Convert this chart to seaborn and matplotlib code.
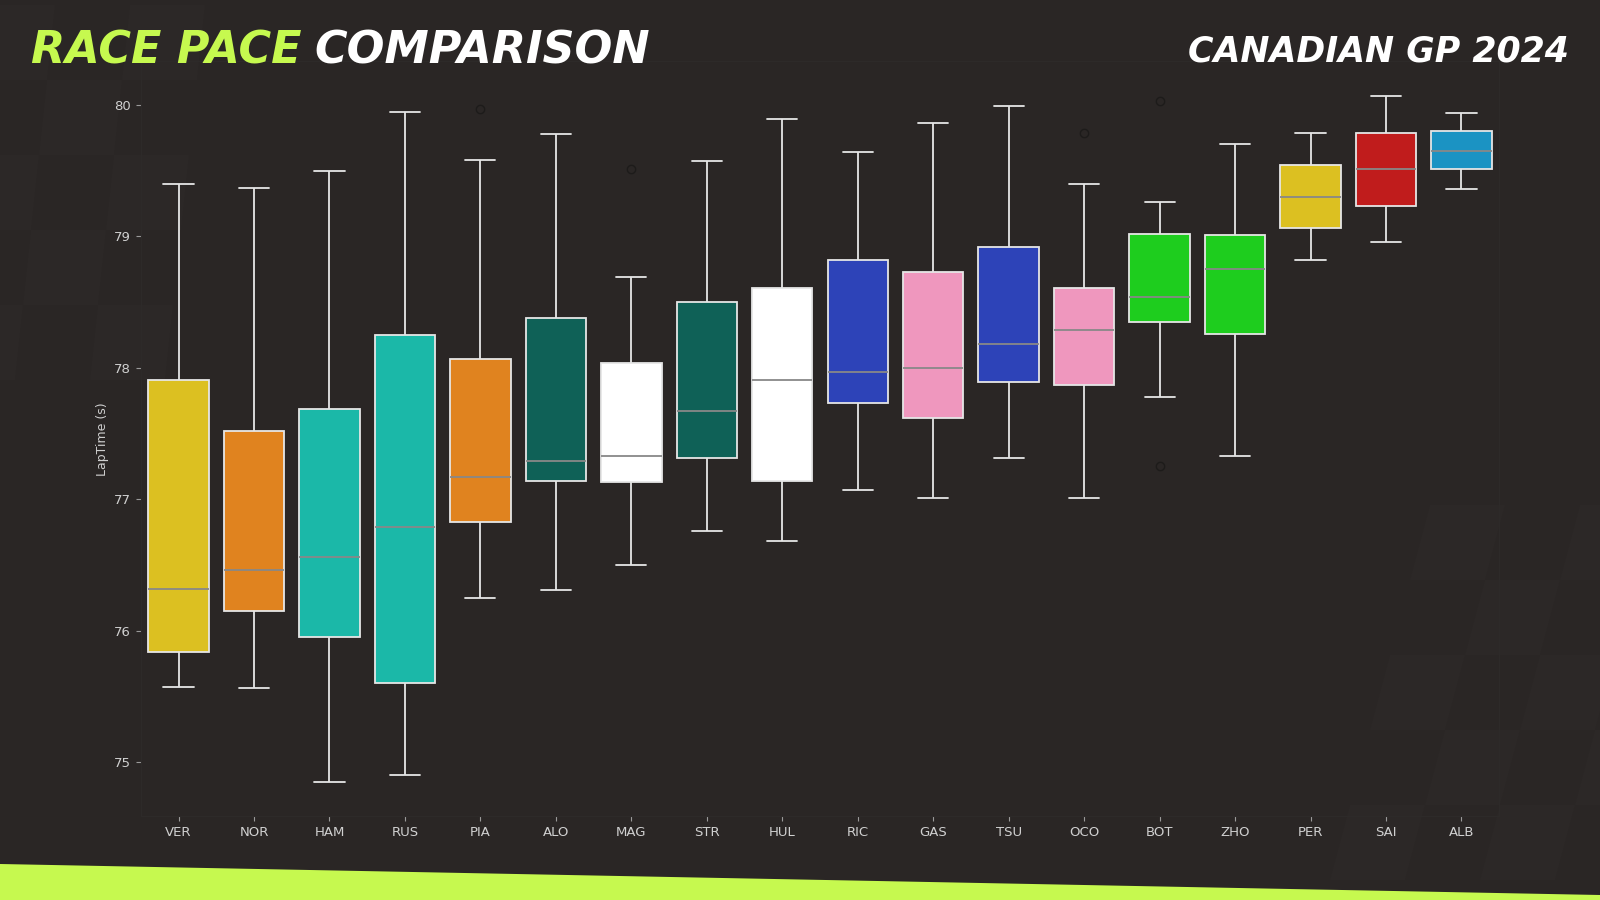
import numpy as np
import pandas as pd
import seaborn as sns
import matplotlib.pyplot as plt
from matplotlib.patches import Polygon

# lap time summary per driver (seconds)
drivers = ["VER", "NOR", "HAM", "RUS", "PIA", "ALO", "MAG", "STR", "HUL",
           "RIC", "GAS", "TSU", "OCO", "BOT", "ZHO", "PER", "SAI", "ALB"]
whislo = [75.57, 75.56, 74.85, 74.90, 76.25, 76.31, 76.50, 76.76, 76.68,
          77.07, 77.01, 77.31, 77.01, 77.78, 77.33, 78.82, 78.96, 79.36]
q1 = [75.84, 76.15, 75.95, 75.60, 76.83, 77.14, 77.13, 77.31, 77.14,
      77.73, 77.62, 77.89, 77.87, 78.35, 78.26, 79.06, 79.23, 79.51]
med = [76.32, 76.46, 76.56, 76.79, 77.17, 77.29, 77.33, 77.67, 77.91,
       77.97, 78.00, 78.18, 78.29, 78.54, 78.75, 79.30, 79.51, 79.65]
q3 = [77.91, 77.52, 77.69, 78.25, 78.07, 78.38, 78.04, 78.50, 78.61,
      78.82, 78.73, 78.92, 78.61, 79.02, 79.01, 79.54, 79.79, 79.80]
whishi = [79.40, 79.37, 79.50, 79.95, 79.58, 79.78, 78.69, 79.57, 79.89,
          79.64, 79.86, 79.99, 79.40, 79.26, 79.70, 79.79, 80.07, 79.94]
# outliers (None = no outlier on that side)
flier_lo = [None] * 13 + [77.25] + [None] * 4
flier_hi = [None, None, None, None, 79.97, None, 79.51, None, None,
            None, None, None, 79.79, 80.03, None, None, None, None]
team_colors = ["#DCC021", "#E0831F", "#1BB8A8", "#1BB8A8", "#E0831F", "#0F6157",
               "#FFFFFF", "#0F6157", "#FFFFFF", "#2D43B8", "#EF97BE", "#2D43B8",
               "#EF97BE", "#1ECD1E", "#1ECD1E", "#DCC021", "#C01C1C", "#1B93C3"]

BG = "#2a2625"
LIME = "#c6f94f"

# build laps so the box stats come out as read
rows = []
for i, d in enumerate(drivers):
    lo = flier_lo[i] if flier_lo[i] is not None else whislo[i]
    hi = flier_hi[i] if flier_hi[i] is not None else whishi[i]
    for v in [lo, whislo[i], q1[i], q1[i], med[i], q3[i], q3[i], whishi[i], hi]:
        rows.append((d, v))
laps = pd.DataFrame(rows, columns=["Driver", "LapTime"])

sns.set_style("dark")
fig = plt.figure(figsize=(16, 9), dpi=100, facecolor=BG)

# faint checker pattern in the corners (background decoration)
def checker(x0, y0, nx, ny, size, skew):
    for i in range(nx):
        for j in range(ny):
            if (i + j) % 2:
                continue
            x = x0 + i * size + j * skew
            y = y0 - j * size
            pts = [(x, y), (x + size, y), (x + size + skew, y - size), (x + skew, y - size)]
            fig.patches.append(Polygon([(px / 1600, 1 - py / 900) for px, py in pts],
                                       closed=True, transform=fig.transFigure,
                                       facecolor="#2c2827", edgecolor="none", zorder=-10))

checker(-60, 380, 3, 5, 75, 8)
checker(1330, 880, 4, 5, 75, 20)

# lime stripe at the bottom
fig.patches.append(Polygon([(0, 1 - 864 / 900), (1, 1 - 895 / 900), (1, 0), (0, 0)],
                           closed=True, transform=fig.transFigure,
                           facecolor=LIME, edgecolor="none", zorder=-5))

ax = fig.add_axes([0.088, 0.0933, 0.849, 0.8384])
ax.set_facecolor("none")

sns.boxplot(data=laps, x="Driver", y="LapTime", hue="Driver", palette=team_colors,
            legend=False, saturation=1, width=0.8, linewidth=1.3, linecolor="#e6e6e6",
            medianprops=dict(color="#888888", linewidth=1.3),
            flierprops=dict(marker="o", markerfacecolor="none",
                            markeredgecolor="#1d1b1a", markersize=6), ax=ax)

ax.set_yticks([75, 76, 77, 78, 79, 80])
ax.set_xlabel("")
ax.set_ylabel("LapTime (s)", color="#cfcfcf", fontsize=9)
ax.tick_params(axis="both", colors="#9a9a9a", labelcolor="#d0d0d0",
               labelsize=9.5, length=3.5, width=0.8, bottom=True, left=True)
for s in ax.spines.values():
    s.set_visible(True)
    s.set_color("#2d2a29")
    s.set_linewidth(0.8)
ax.grid(False)

# titles
t1 = fig.text(31 / 1600, 1 - 64 / 900, "RACE PACE", color=LIME, fontsize=32,
              fontweight="bold", fontstyle="italic", family="DejaVu Sans", va="baseline")
fig.canvas.draw()
bb = t1.get_window_extent(renderer=fig.canvas.get_renderer())
fig.text(bb.x1 / 1600 + 0.008, 1 - 64 / 900, "COMPARISON", color="white", fontsize=32,
         fontweight="bold", fontstyle="italic", family="DejaVu Sans", va="baseline")
fig.text(1569 / 1600, 1 - 62 / 900, "CANADIAN GP 2024", color="white", fontsize=25,
         fontweight="bold", fontstyle="italic", family="DejaVu Sans", va="baseline", ha="right")

fig.savefig("out.png", dpi=100, facecolor=BG)
